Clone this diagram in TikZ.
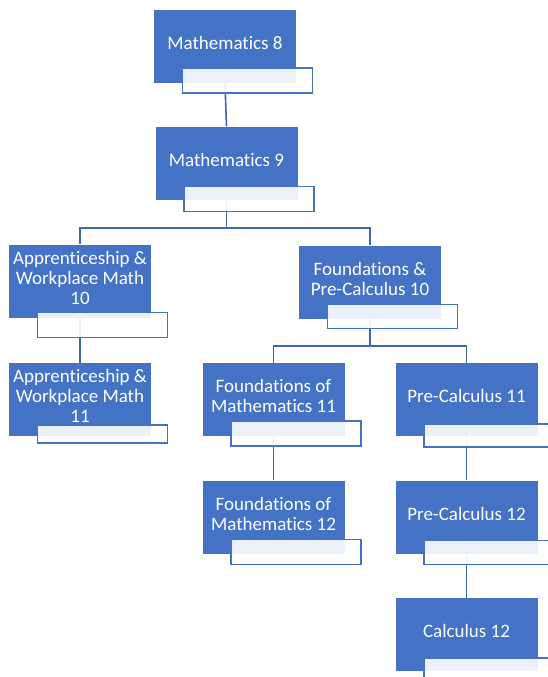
\documentclass[tikz,border=0pt]{standalone}
\usepackage{fontspec}
\setmainfont{Carlito}[Ligatures=NoCommon]
\usetikzlibrary{positioning}
\definecolor{boxblue}{HTML}{4472C4}
\definecolor{lineblue}{HTML}{3F66B2}

\begin{document}
\begin{tikzpicture}[x=1pt, y=-1pt,
  course/.style={fill=boxblue, text=white, minimum width=142pt, minimum height=73pt,
    align=center, inner sep=2pt, text depth=7pt, font=\fontsize{19}{20}\selectfont},
  labelbox/.style={draw=boxblue, line width=1.5pt, fill=white, fill opacity=0.9,
    minimum width=130pt, inner sep=0pt, anchor=north west},
  link/.style={draw=lineblue, line width=1.6pt}]

\path[use as bounding box] (0,0) rectangle (548,677);
\clip (0,0) rectangle (548,677);

% Grade 8 and 9
\node[course] (m8) at (225,46.5) {Mathematics 8};
\node[course] (m9) at (226.5,163) {Mathematics 9};

% Grade 10
\node[course] (aw10) at (80,281) {Apprenticeship \&\\Workplace Math\\10};
\node[course] (fp10) at (370,282) {Foundations \&\\Pre-Calculus 10};

% Grade 11
\node[course] (aw11) at (80,399.5) {Apprenticeship \&\\Workplace Math\\11};
\node[course] (fm11) at (273.5,399.5) {Foundations of\\Mathematics 11};
\node[course] (pc11) at (466.5,399.5) {Pre-Calculus 11};

% Grade 12
\node[course] (fm12) at (273.5,517) {Foundations of\\Mathematics 12};
\node[course] (pc12) at (466.5,517) {Pre-Calculus 12};
\node[course] (c12)  at (466.5,634.5) {Calculus 12};

% Pathways
\draw[link] (m8.south) -- (m9.north);
\draw[link] (m9.south) -- ++(0,28) -| (aw10.north);
\draw[link] (m9.south) -- ++(0,28) -| (fp10.north);
\draw[link] (aw10.south) -- (aw11.north);
\draw[link] (fp10.south) -- ++(0,27) -| (fm11.north);
\draw[link] (fp10.south) -- ++(0,27) -| (pc11.north);
\draw[link] (fm11.south) -- (fm12.north);
\draw[link] (pc11.south) -- (pc12.north);
\draw[link] (pc12.south) -- (c12.north);

% Empty label boxes (name/overlap/height)
\foreach \n/\o/\h in {m8/16/25, m9/14/25, aw10/6/25, fp10/15/24, aw11/12/18,
    fm11/16/25, pc11/13/23, fm12/15/25, pc12/14/24, c12/14/25}
  \node[labelbox, minimum height=\h pt] (\n-tag) at ([xshift=28pt,yshift=\o pt]\n.south west) {};

\end{tikzpicture}
\end{document}
